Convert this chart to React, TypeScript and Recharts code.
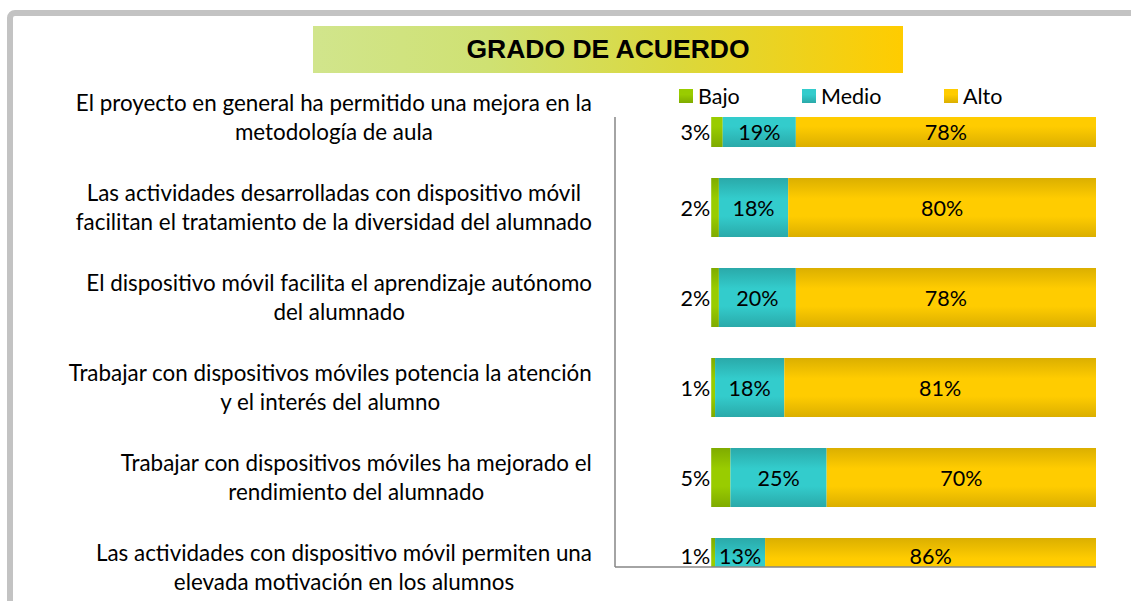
import React from 'react';
import { BarChart, Bar, XAxis, YAxis, LabelList } from 'recharts';

// ---------- data ----------
const categories: string[][] = [
  ['El proyecto en general ha permitido una mejora en la', 'metodología de aula'],
  ['Las actividades desarrolladas con dispositivo móvil', 'facilitan el tratamiento de la diversidad del alumnado'],
  ['El dispositivo móvil facilita el aprendizaje autónomo', 'del alumnado'],
  ['Trabajar con dispositivos móviles potencia la atención', 'y el interés del alumno'],
  ['Trabajar con dispositivos móviles ha mejorado el', 'rendimiento del alumnado'],
  ['Las actividades con dispositivo móvil permiten una', 'elevada motivación en los alumnos'],
];
const bajo = [3, 2, 2, 1, 5, 1];
const medio = [19, 18, 20, 18, 25, 13];
const alto = [78, 80, 78, 81, 70, 86];
const seriesNames = ['Bajo', 'Medio', 'Alto'];
const titleText = 'GRADO DE ACUERDO';

const data = categories.map((c, i) => ({
  pos: i + 1,
  bajo: bajo[i],
  medio: medio[i],
  alto: alto[i],
}));

// ---------- layout / style ----------
const W = 1131;
const H = 601;
const PLOT_TOP = 117;
const PLOT_BOTTOM = 567;
const PLOT_LEFT = 615;
const PLOT_RIGHT = 1096;
const LABEL_RIGHT = 592;
const FONT = 'Lato';
const LABEL_SIZE = 21.5;
const CAT_SIZE = 22.4;
const AXIS_COLOR = '#868686';

const colors = {
  Bajo: { edge: '#7fab00', mid: '#99cc00', id: 'gBajo' },
  Medio: { edge: '#2aa9a9', mid: '#33cccc', id: 'gMedio' },
  Alto: { edge: '#dbaf00', mid: '#ffcc00', id: 'gAlto' },
} as Record<string, { edge: string; mid: string; id: string }>;

let ctx: CanvasRenderingContext2D | null = null;
function textWidth(s: string, font: string): number {
  if (!ctx && typeof document !== 'undefined') {
    ctx = document.createElement('canvas').getContext('2d');
  }
  if (!ctx) return s.length * 10;
  ctx.font = font;
  return ctx.measureText(s).width;
}

const CategoryTick = (props: any) => {
  const { y, payload } = props;
  const lines = categories[Math.round(payload.value) - 1];
  if (!lines) return null;
  const font = `${CAT_SIZE}px ${FONT}`;
  const maxW = Math.max(...lines.map((l) => textWidth(l, font)));
  const cx = LABEL_RIGHT - maxW / 2;
  const lh = 28.5;
  const y0 = y - ((lines.length - 1) * lh) / 2;
  return (
    <g>
      {lines.map((l, i) => (
        <text
          key={i}
          x={cx}
          y={y0 + i * lh}
          textAnchor="middle"
          dominantBaseline="central"
          fontFamily={FONT}
          fontSize={CAT_SIZE}
          fill="#000"
        >
          {l}
        </text>
      ))}
    </g>
  );
};

const makeLabel = (mode: 'left' | 'center') => (props: any) => {
  const x = Number(props.x);
  const y = Number(props.y);
  const width = Number(props.width);
  const height = Number(props.height);
  const top = Math.max(y, PLOT_TOP);
  const bot = Math.min(y + height, PLOT_BOTTOM + 7);
  const cy = (top + bot) / 2;
  const tx = mode === 'left' ? x - 1 : x + width / 2;
  return (
    <text
      x={tx}
      y={cy}
      textAnchor={mode === 'left' ? 'end' : 'middle'}
      dominantBaseline="central"
      fontFamily={FONT}
      fontSize={LABEL_SIZE}
      fill="#000"
    >
      {`${props.value}%`}
    </text>
  );
};

const legendPos = [
  { sq: 679, tx: 698 },
  { sq: 802, tx: 821 },
  { sq: 944, tx: 963 },
];

export default function App() {
  return (
    <div
      style={{
        position: 'fixed',
        left: 0,
        top: 0,
        width: W,
        height: H,
        overflow: 'hidden',
        background: '#fff',
      }}
    >
      <svg width={0} height={0} style={{ position: 'absolute' }}>
        <defs>
          {seriesNames.map((n) => (
            <linearGradient key={n} id={colors[n].id} x1="0" y1="0" x2="0" y2="1">
              <stop offset="0" stopColor={colors[n].edge} />
              <stop offset="0.35" stopColor={colors[n].mid} />
              <stop offset="0.65" stopColor={colors[n].mid} />
              <stop offset="1" stopColor={colors[n].edge} />
            </linearGradient>
          ))}
        </defs>
      </svg>
      {/* frame */}
      <div
        style={{
          position: 'absolute',
          left: 7,
          top: 10,
          width: 1400,
          height: 900,
          border: '6px solid #c3c3c3',
          borderRadius: 8,
          boxSizing: 'border-box',
        }}
      />
      {/* title */}
      <div
        style={{
          position: 'absolute',
          left: 313,
          top: 26,
          width: 590,
          height: 47,
          background: 'linear-gradient(to right, #d1e58c 0%, #cfe172 30%, #dbd83c 62%, #ffcc00 100%)',
          display: 'flex',
          alignItems: 'center',
          justifyContent: 'center',
          fontFamily: '"Liberation Sans", Arial, sans-serif',
          fontWeight: 'bold',
          fontSize: 26.5,
          color: '#000',
        }}
      >
        {titleText}
      </div>
      {/* legend */}
      {seriesNames.map((n, i) => (
        <div key={n}>
          <div
            style={{
              position: 'absolute',
              left: legendPos[i].sq,
              top: 89,
              width: 14,
              height: 14,
              background: `linear-gradient(to bottom, ${colors[n].mid} 0%, ${colors[n].mid} 40%, ${colors[n].edge} 100%)`,
            }}
          />
          <div
            style={{
              position: 'absolute',
              left: legendPos[i].tx,
              top: 81,
              lineHeight: '30px',
              fontFamily: FONT,
              fontSize: LABEL_SIZE,
              color: '#000',
            }}
          >
            {n}
          </div>
        </div>
      ))}
      <div style={{ position: 'absolute', left: 0, top: 0 }}>
        <BarChart
          width={W}
          height={H}
          data={data}
          layout="vertical"
          margin={{ top: PLOT_TOP, bottom: H - PLOT_BOTTOM - 1, left: 0, right: W - PLOT_RIGHT }}
        >
          <XAxis
            type="number"
            domain={[-25, 100]}
            allowDataOverflow
            height={1}
            tick={false}
            tickLine={false}
            axisLine={{ stroke: AXIS_COLOR, strokeWidth: 1.5 }}
          />
          <YAxis
            type="number"
            dataKey="pos"
            domain={[1, 6]}
            ticks={[1, 2, 3, 4, 5, 6]}
            interval={0}
            allowDataOverflow
            width={PLOT_LEFT}
            tickLine={false}
            axisLine={{ stroke: AXIS_COLOR, strokeWidth: 1.5 }}
            tick={<CategoryTick />}
          />
          <Bar dataKey="bajo" stackId="s" barSize={59} fill="url(#gBajo)" isAnimationActive={false}>
            <LabelList dataKey="bajo" content={makeLabel('left')} />
          </Bar>
          <Bar dataKey="medio" stackId="s" barSize={59} fill="url(#gMedio)" isAnimationActive={false}>
            <LabelList dataKey="medio" content={makeLabel('center')} />
          </Bar>
          <Bar dataKey="alto" stackId="s" barSize={59} fill="url(#gAlto)" isAnimationActive={false}>
            <LabelList dataKey="alto" content={makeLabel('center')} />
          </Bar>
        </BarChart>
      </div>
    </div>
  );
}
